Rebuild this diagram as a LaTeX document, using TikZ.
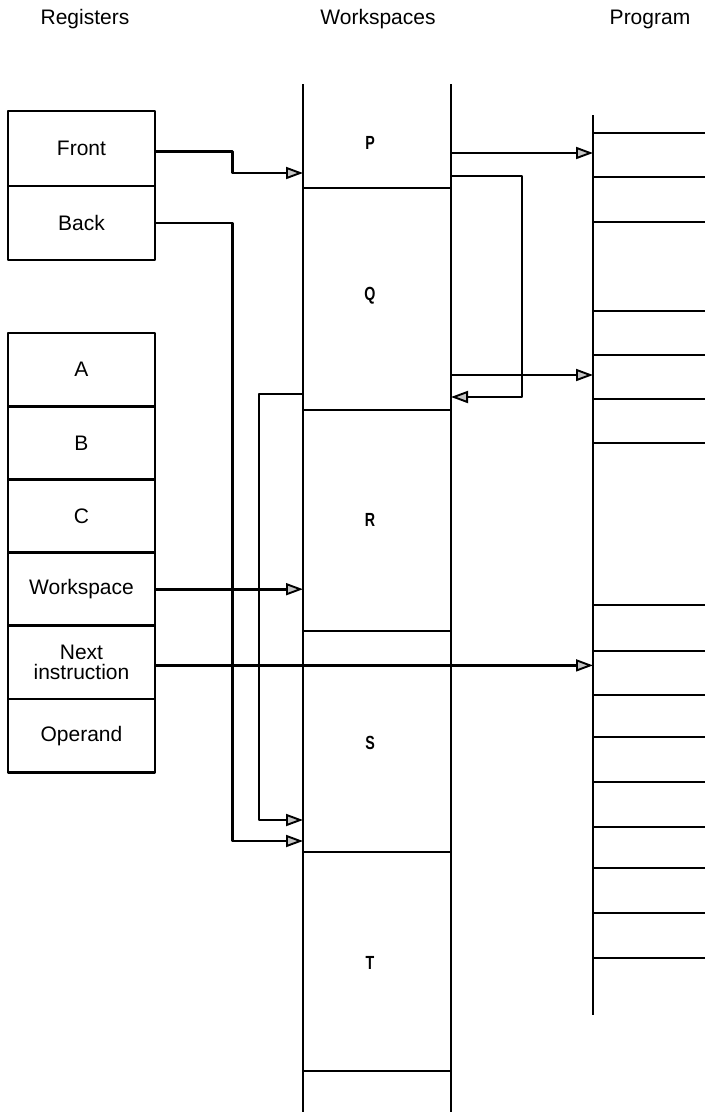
\documentclass[tikz,border=0pt]{standalone}
\usepackage{fontspec}
\setmainfont{Liberation Sans}
\newfontfamily\labfont[FakeStretch=0.75]{Liberation Sans Bold}
\usetikzlibrary{arrows.meta}
\begin{document}
\begin{tikzpicture}[x=1pt,y=-1pt, line width=2.9pt, line join=round,
  reg/.style={draw, minimum width=147pt, inner sep=0pt, align=center,
    font=\fontsize{21}{22}\selectfont},
  hdr/.style={anchor=base, font=\fontsize{21}{24}\selectfont},
  wl/.style={font=\fontsize{19}{21}\labfont},
  conn/.style={line width=2.7pt, -{Triangle[open,fill=gray!45,length=17pt,width=12pt,line width=1.9pt]}},
  wire/.style={line width=2.9pt}]
\useasboundingbox (0,0) rectangle (705,1116);

% headers
\node[hdr] (hreg) at (85,25) {Registers};
\node[hdr] (hws) at (378,25) {Workspaces};
\node[hdr] (hprog) at (650,25) {Program};

% registers
\node[reg, minimum height=75pt] (front) at (81.5,148.5) {Front};
\node[reg, minimum height=74pt] (back) at (81.5,223) {Back};
\node[reg, minimum height=73.2pt] (A) at (81.5,369.6) {A};
\node[reg, minimum height=73.2pt] (B) at (81.5,442.8) {B};
\node[reg, minimum height=73.2pt] (C) at (81.5,516) {C};
\node[reg, minimum height=73.2pt] (ws) at (81.5,589.2) {Workspace};
\node[reg, minimum height=73.2pt] (next) at (81.5,662.4) {Next\\[-2pt]instruction};
\node[reg, minimum height=73.2pt] (oper) at (81.5,735.6) {Operand};

% column reference coordinates
\coordinate (WL) at (303,0);
\coordinate (WR) at (451,0);
\coordinate (PL) at (593,0);

% workspaces
\draw[wire] (303,84) -- (303,1112);
\draw[wire] (451,84) -- (451,1112);
\foreach \y in {188,410,631,852,1071}
  \draw[wire] (303,\y) -- (451,\y);
\node[wl] (P) at (370,143) {P};
\node[wl] (Q) at (370,296) {Q};
\node[wl] (R) at (370,520) {R};
\node[wl] (S) at (370,743) {S};
\node[wl] (T) at (370,963) {T};

% program
\draw[wire] (593,115) -- (593,1015);
\foreach \y in {133,177,222,311,355,399,443,605,651,695,737,782,827,868,913,958}
  \draw[wire] (593,\y) -- (705,\y);

% connector end points
\coordinate (Pin) at (303,173);
\coordinate (Sin1) at (303,820);
\coordinate (Sin2) at (303,841);
\coordinate (Qout) at (303,394);
\coordinate (Pout) at (451,153);
\coordinate (Lout) at (451,176);
\coordinate (Lin) at (451,397);
\coordinate (Qr) at (451,375);

% connectors
\draw[conn] ([yshift=-3pt]front.east) -- ++(76,0) |- (Pin);
\draw[conn] (back.east) -- ++(76,0) |- (Sin2);
\draw[conn] (Qout) -- ++(-44,0) |- (Sin1);
\draw[conn] (ws.east) -- (ws.east -| WL);
\draw[conn] ([yshift=-3pt]next.east) -- ([yshift=-3pt]next.east -| PL);
\draw[conn] (Pout) -- (Pout -| PL);
\draw[conn] (Lout) -- ++(71,0) |- (Lin);
\draw[conn] (Qr) -- (Qr -| PL);
\end{tikzpicture}
\end{document}
